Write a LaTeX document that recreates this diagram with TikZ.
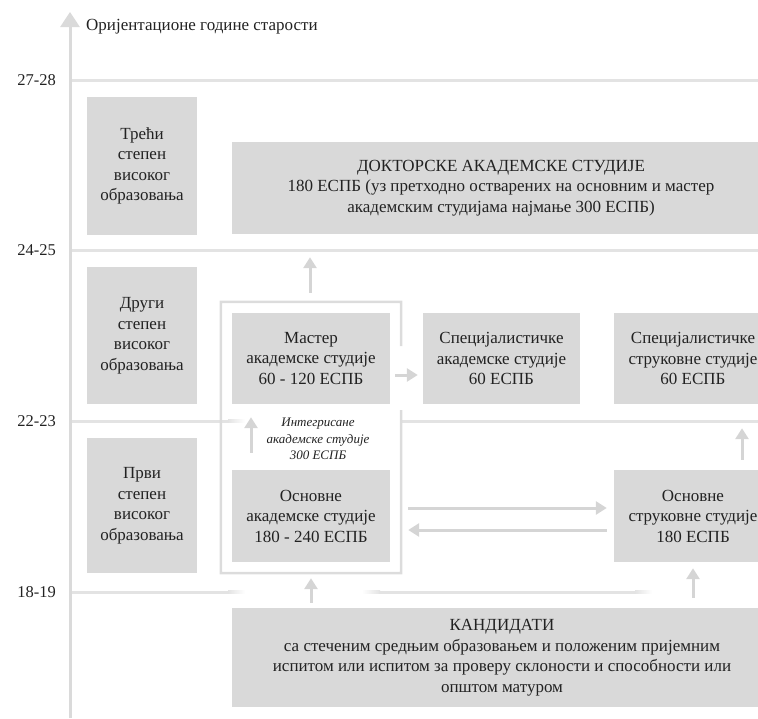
\documentclass[tikz,border=0pt]{standalone}
\usepackage{fontspec}
\setmainfont{Liberation Serif}
\usetikzlibrary{arrows.meta}
\definecolor{boxgray}{HTML}{D9D9D9}
\definecolor{linegray}{HTML}{E3E3E3}
\definecolor{framegray}{HTML}{DCDCDC}
\definecolor{arrowgray}{HTML}{D5D5D5}
\definecolor{axisgray}{HTML}{DADADA}
\definecolor{txt}{HTML}{222222}
\begin{document}
\begin{tikzpicture}[x=1pt,y=-1pt,
  every node/.style={text=txt, font=\fontsize{17}{20.5}\selectfont},
  box/.style={fill=boxgray, inner sep=0pt, align=center},
  hline/.style={draw=linegray, line width=3pt},
  arr/.style={draw=arrowgray, line width=3pt, -{Triangle[length=11pt,width=13pt]}},
  framestyle/.style={draw=framegray, line width=2.5pt},
  agelabel/.style={anchor=east, inner sep=0pt, font=\fontsize{16.5}{20}\selectfont}]
\useasboundingbox (0,0) rectangle (758,718);

% horizontal age lines
\draw[hline] (70,80) -- (758,80);
\draw[hline] (70,250) -- (758,250);
\draw[hline] (70,421) -- (229,421);
\shade[left color=linegray, right color=white] (228,419.5) rectangle (245,422.5);
\draw[hline] (402,421) -- (758,421);
\draw[hline] (70,592) -- (229,592);
\shade[left color=linegray, right color=white] (228,590.5) rectangle (245,593.5);
\shade[left color=white, right color=linegray] (362,590.5) rectangle (380,593.5);
\draw[hline] (379,592) -- (636,592);
\shade[left color=linegray, right color=white] (635,590.5) rectangle (652,593.5);

% axis
\coordinate (axbot) at (70,718);
\coordinate (axtop) at (70,12);
\draw[draw=axisgray, line width=3pt, -{Triangle[length=15pt,width=19pt]}] (axbot) -- (axtop);
\node[anchor=west, inner sep=0pt] (title) at (86,27) {Оријентационе године старости};

% age labels
\node[agelabel] (a1) at (56,80) {27-28};
\node[agelabel] (a2) at (56,250) {24-25};
\node[agelabel] (a3) at (56,421) {22-23};
\node[agelabel] (a4) at (56,592) {18-19};

% level boxes
\node[box, minimum width=110pt, minimum height=138pt] (lvl3) at (142,166) {Трећи\\степен\\високог\\образовања};
\node[box, minimum width=110pt, minimum height=137pt] (lvl2) at (142,335.5) {Други\\степен\\високог\\образовања};
\node[box, minimum width=110pt, minimum height=135pt] (lvl1) at (142,505.5) {Први\\степен\\високог\\образовања};

% frame (integrated studies)
\node[inner sep=0pt, minimum width=180pt, minimum height=271pt] (frame) at (311,437.5) {};
\draw[framestyle] (401,346) -- (frame.north east) -- (frame.north west) -- (frame.south west) -- (frame.south east) -- (401,410);

% study boxes
\node[box, minimum width=538pt, minimum height=92pt] (doc) at (501,188)
  {ДОКТОРСКЕ АКАДЕМСКЕ СТУДИЈЕ\\180 ЕСПБ (уз претходно остварених на основним и мастер\\академским студијама најмање 300 ЕСПБ)};
\node[box, minimum width=158pt, minimum height=91pt] (master) at (311,358.5) {Мастер\\академске студије\\60 - 120 ЕСПБ};
\node[box, minimum width=157pt, minimum height=91pt] (specA) at (501.5,358.5) {Специјалистичке\\академске студије\\60 ЕСПБ};
\node[box, minimum width=158pt, minimum height=91pt] (specP) at (693,358.5) {Специјалистичке\\струковне студије\\60 ЕСПБ};
\node[box, minimum width=158pt, minimum height=92pt] (basicA) at (311,516) {Основне\\академске студије\\180 - 240 ЕСПБ};
\node[box, minimum width=158pt, minimum height=92pt] (basicP) at (693,516) {Основне\\струковне студије\\180 ЕСПБ};
\node[box, minimum width=540pt, minimum height=99pt] (cand) at (502,657.5)
  {КАНДИДАТИ\\са стеченим средњим образовањем и положеним пријемним\\испитом или испитом за проверу склоности и способности или\\општом матуром};

\node[align=center, inner sep=0pt, font=\fontsize{13}{16.5}\selectfont\itshape] (integ) at (318,439) {Интегрисане\\академске студије\\300 ЕСПБ};

% arrows
\draw[arr, shorten <=9pt, shorten >=23pt] ([xshift=-1pt]frame.north) -- ([xshift=-1pt]doc.south -| frame.north);
\draw[arr, shorten <=5pt, shorten >=5pt] ([yshift=-16.5pt]master.east) -- ([yshift=-16.5pt]specA.west);
\draw[arr, shorten <=17pt, shorten >=13pt] ([xshift=-60pt]basicA.north) -- ([xshift=-60pt]master.south);
\draw[arr, shorten <=5pt, shorten >=5pt] (basicA.south |- cand.north) -- (frame.south);
\draw[arr, shorten <=18pt, shorten >=7pt] ([yshift=8pt]basicA.east) -- ([yshift=8pt]basicP.west);
\draw[arr, shorten <=7pt, shorten >=18pt] ([yshift=-14pt]basicP.west) -- ([yshift=-14pt]basicA.east);
\draw[arr, shorten <=10pt, shorten >=6pt] (basicP.south |- cand.north) -- (basicP.south);
\draw[arr, shorten <=10pt, shorten >=24pt] ([xshift=49pt]basicP.north) -- ([xshift=49pt]specP.south);
\end{tikzpicture}
\end{document}
